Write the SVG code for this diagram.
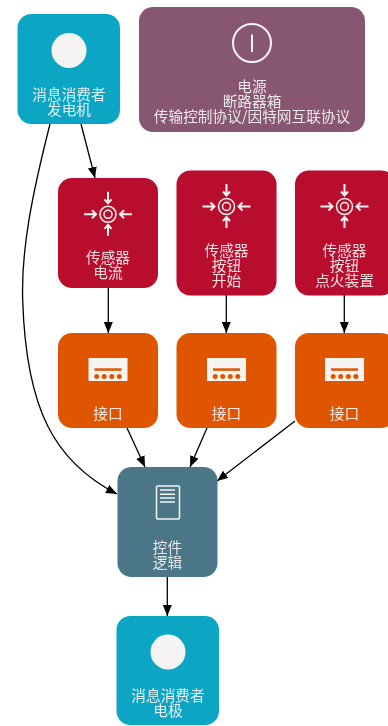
<svg xmlns="http://www.w3.org/2000/svg" xmlns:xlink="http://www.w3.org/1999/xlink" width="388" height="726" viewBox="0 0 388 726">
<style>
text{font-family:"Noto Sans CJK SC","Liberation Sans",sans-serif;font-size:14.67px;fill:#f5f4f3;fill-opacity:.92;text-anchor:middle}
.e{fill:none;stroke:#000;stroke-width:1.3;marker-end:url(#a)}
.s{fill:none;stroke:#f5f4f3;stroke-width:1.5}
.p{fill:none;stroke:#f5f4f3;stroke-width:2}
.t{fill:#10a5c4}.r{fill:#b90b2e}.o{fill:#e05500}
.w{fill:#f5f4f3}
</style>
<defs>
<marker id="a" markerUnits="userSpaceOnUse" markerWidth="12" markerHeight="10" refX="11" refY="4.500" orient="auto"><path d="M0 0L11 4.500L0 9Z" fill="#000"/></marker>
<filter id="b" x="-2%" y="-2%" width="104%" height="104%"><feGaussianBlur stdDeviation="0.6"/></filter>
<g id="sens">
<circle r="8" class="s"/><circle r="4" class="s"/>
<path class="p" d="M0-22.500V-11M-3.500-15L0-11L3.500-15M0 21.500V10.500M-3.500 14.500L0 10.500L3.500 14.500M-24 0H-12M-16-4L-12 0L-16 4M24 0H12M16-4L12 0L16 4"/>
</g>
<g id="port">
<rect x="-19.500" y="-11.500" width="39" height="23" class="w"/>
<rect x="-13.500" y="-1.200" width="27" height="2.500" class="o"/>
<circle cx="-11.300" cy="7" r="2.500" class="o"/><circle cx="-3.800" cy="7" r="2.500" class="o"/><circle cx="3.800" cy="7" r="2.500" class="o"/><circle cx="11.300" cy="7" r="2.500" class="o"/>
</g>
</defs>
<rect width="388" height="726" fill="#fff"/>
<g filter="url(#b)">
<g id="connectors">
<path class="e" d="M81 124L95 178"/>
<path class="e" d="M50 124C32 195 21 250 22.700 300C26 410 55 462 117 494"/>
<path class="e" d="M108.300 288V333"/>
<path class="e" d="M226.300 295V333"/>
<path class="e" d="M344.300 295V333"/>
<path class="e" d="M127 428L145 467"/>
<path class="e" d="M207 428L190 467"/>
<path class="e" d="M295 421L217 481"/>
<path class="e" d="M167.300 577V616"/>
</g>
<g id="consumer-generator">
<rect x="17.500" y="14" width="102.500" height="110" rx="14" class="t"/>
<circle cx="69" cy="50.500" r="17.500" class="w"/>
<text><tspan x="69" y="100">消息消费者</tspan><tspan x="69" y="115">发电机</tspan></text>
</g>
<g id="power">
<rect x="139" y="7" width="226" height="125" rx="14" fill="#875672"/>
<circle cx="252" cy="43" r="19" class="p"/>
<path class="p" d="M252 34.500V52"/>
<text><tspan x="252" y="92">电源</tspan><tspan x="252" y="107">断路器箱</tspan><tspan x="252" y="122">传输控制协议/因特网互联协议</tspan></text>
</g>
<g id="sensor-current">
<rect x="58" y="178" width="100" height="110" rx="14" class="r"/>
<use xlink:href="#sens" transform="translate(108 214.300)"/>
<text><tspan x="108" y="263">传感器</tspan><tspan x="108" y="278">电流</tspan></text>
</g>
<g id="sensor-start">
<rect x="176.500" y="170.500" width="100" height="125" rx="14" class="r"/>
<use xlink:href="#sens" transform="translate(226.500 206.500)"/>
<text><tspan x="226.500" y="256">传感器</tspan><tspan x="226.500" y="271">按钮</tspan><tspan x="226.500" y="286">开始</tspan></text>
</g>
<g id="sensor-ignition">
<rect x="295" y="170.500" width="100" height="125" rx="14" class="r"/>
<use xlink:href="#sens" transform="translate(344.500 206.500)"/>
<text><tspan x="344.500" y="256">传感器</tspan><tspan x="344.500" y="271">按钮</tspan><tspan x="344.500" y="286">点火装置</tspan></text>
</g>
<g id="interface-1">
<rect x="58" y="333" width="100" height="95" rx="14" class="o"/>
<use xlink:href="#port" transform="translate(108 369.500)"/>
<text x="108" y="419">接口</text>
</g>
<g id="interface-2">
<rect x="176.500" y="333" width="100" height="95" rx="14" class="o"/>
<use xlink:href="#port" transform="translate(226.500 369.500)"/>
<text x="226.500" y="419">接口</text>
</g>
<g id="interface-3">
<rect x="295" y="333" width="100" height="95" rx="14" class="o"/>
<use xlink:href="#port" transform="translate(344.500 369.500)"/>
<text x="344.500" y="419">接口</text>
</g>
<g id="control">
<rect x="117.500" y="467" width="100" height="110" rx="14" fill="#4b7688"/>
<rect x="156.500" y="486" width="23" height="33" rx="1" class="s"/>
<path class="s" d="M160 490H175M160 494.300H175M160 498H175M160 502H175"/>
<text><tspan x="167.500" y="553">控件</tspan><tspan x="167.500" y="568">逻辑</tspan></text>
</g>
<g id="consumer-electrode">
<rect x="116.500" y="616" width="102.500" height="109" rx="14" class="t"/>
<circle cx="168" cy="652" r="17.500" class="w"/>
<text><tspan x="168" y="701">消息消费者</tspan><tspan x="168" y="716">电极</tspan></text>
</g>
</g>
</svg>
